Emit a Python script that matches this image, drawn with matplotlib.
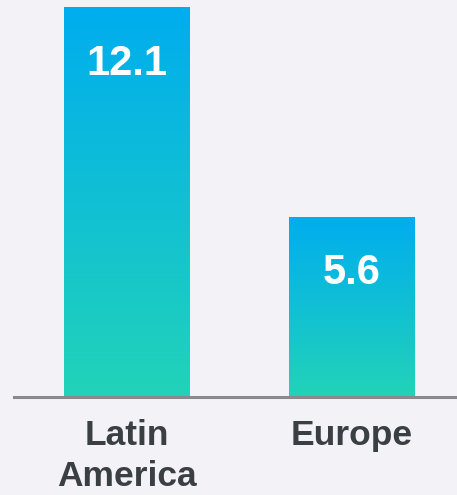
import numpy as np
import matplotlib
matplotlib.use("Agg")
import matplotlib.pyplot as plt
from matplotlib.colors import LinearSegmentedColormap

# Data
regions = ["Latin\nAmerica", "Europe"]
values = [12.1, 5.6]

BG = "#F2F2F7"
TOP_COLOR = "#00ADEF"
BOTTOM_COLOR = "#22D3B8"
TEXT_COLOR = "#3A3F44"

plt.rcParams["font.family"] = ["Liberation Sans", "DejaVu Sans"]

fig = plt.figure(figsize=(4.57, 4.95), dpi=100, facecolor=BG)
ax = fig.add_axes([14 / 457, 98 / 495, 443 / 457, 397 / 495])
ax.set_facecolor(BG)

x = np.arange(len(regions))
width = 0.56
bars = ax.bar(x, values, width=width, color="none", edgecolor="none")

# vertical gradient inside each bar
cmap = LinearSegmentedColormap.from_list("grad", [BOTTOM_COLOR, TOP_COLOR])
grad = np.linspace(0, 1, 256).reshape(-1, 1)
for bar, val in zip(bars, values):
    x0 = bar.get_x()
    im = ax.imshow(grad, cmap=cmap, aspect="auto", origin="lower",
                   extent=[x0, x0 + bar.get_width(), 0, val], zorder=2)
    im.set_clip_path(bar)
    ax.annotate(f"{val}", xy=(bar.get_x() + bar.get_width() / 2, val),
                xytext=(0, -40.5), textcoords="offset points",
                ha="center", va="center", color="white",
                fontsize=30, fontweight="bold", zorder=3)

ax.set_xlim(-0.502, 1.467)
ax.set_ylim(0, 12.33)

for side in ["top", "right", "left"]:
    ax.spines[side].set_visible(False)
ax.spines["bottom"].set_color("#8A8A8A")
ax.spines["bottom"].set_linewidth(2.2)

ax.set_yticks([])
ax.set_xticks(x)
ax.set_xticklabels(regions, fontsize=25.5, fontweight="bold", color=TEXT_COLOR,
                   linespacing=1.3)
ax.tick_params(axis="x", length=0, pad=16)

fig.savefig("out.png", dpi=100, facecolor=BG)
